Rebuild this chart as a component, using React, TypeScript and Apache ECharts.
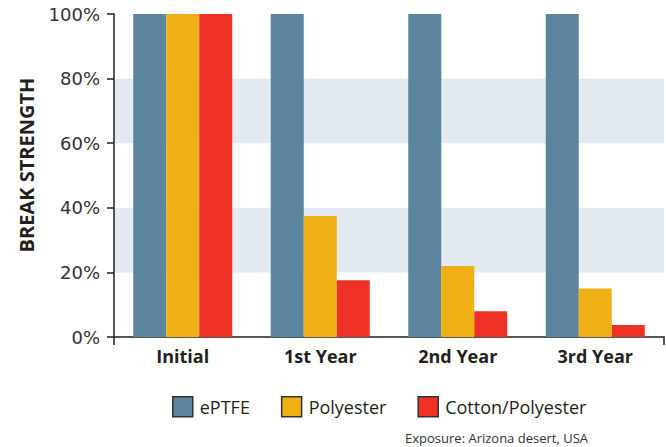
import React, { useEffect, useRef } from "react";
import * as echarts from "echarts";

const categories = ["Initial", "1st Year", "2nd Year", "3rd Year"];
const seriesNames = ["ePTFE", "Polyester", "Cotton/Polyester"];
const eptfe = [100, 100, 100, 100];
const polyester = [100, 37.5, 22, 15];
const cottonPolyester = [100, 17.6, 8, 3.7];
const colors = ["#5b859f", "#eeb015", "#ee3124"];
const yTicks = [0, 20, 40, 60, 80, 100];

const FONT = "Open Sans";
const DARK = "#231f20";

export default function App() {
  const ref = useRef<HTMLDivElement>(null);
  useEffect(() => {
    if (!ref.current) return;
    const chart = echarts.init(ref.current, null, { renderer: "svg" });
    const data = [eptfe, polyester, cottonPolyester];
    chart.setOption({
      animation: false,
      textStyle: { fontFamily: FONT },
      grid: { left: 114, right: 2, top: 14, bottom: 110, containLabel: false },
      legend: {
        left: 172,
        top: 396,
        padding: 0,
        itemWidth: 20,
        itemHeight: 20,
        itemGap: 31,
        icon: "rect",
        textStyle: { fontFamily: FONT, fontSize: 18, color: DARK, fontWeight: 500, padding: [0, 0, 0, 2] },
        data: seriesNames.map((n, i) => ({
          name: n,
          itemStyle: { color: colors[i], borderColor: "#333", borderWidth: 1.5 },
        })),
      },
      xAxis: {
        type: "category",
        data: categories,
        axisLine: { show: true, lineStyle: { color: DARK, width: 1.5 } },
        axisTick: { show: true, length: 8, interval: (i: number) => i === 0, lineStyle: { color: DARK, width: 1.5 } },
        axisLabel: { color: DARK, fontSize: 18, fontWeight: "bold", fontFamily: FONT, margin: 10 },
      },
      yAxis: {
        type: "value",
        min: yTicks[0],
        max: yTicks[yTicks.length - 1],
        interval: 20,
        axisLine: { show: true, lineStyle: { color: DARK, width: 1.5 } },
        axisTick: { show: true, length: 7, lineStyle: { color: DARK, width: 1.5 } },
        axisLabel: { color: "#333", fontSize: 18, fontFamily: "DejaVu Sans", formatter: "{value}%", margin: 14 },
        splitLine: { show: false },
        splitArea: { show: true, areaStyle: { color: ["#ffffff", "#e3eaf1"] } },
      },
      series: seriesNames.map((n, i) => ({
        name: n,
        type: "bar",
        data: data[i],
        barGap: "0%",
        barCategoryGap: "28%",
        itemStyle: { color: colors[i] },
      })),
      graphic: [
        {
          type: "text",
          x: 26,
          y: 165,
          rotation: Math.PI / 2,
          style: {
            text: "BREAK STRENGTH",
            fontFamily: FONT,
            fontSize: 20,
            fontWeight: "bold",
            fill: DARK,
            align: "center",
            verticalAlign: "middle",
          },
        },
        {
          type: "text",
          x: 588,
          y: 438,
          style: {
            text: "Exposure: Arizona desert, USA",
            fontFamily: FONT,
            fontSize: 13,
            lineHeight: 14,
            fill: "#333",
            align: "right",
            verticalAlign: "middle",
          },
        },
      ],
    });
    return () => chart.dispose();
  }, []);
  return <div ref={ref} style={{ width: 666, height: 447, position: "absolute", left: 0, top: 0 }} />;
}
